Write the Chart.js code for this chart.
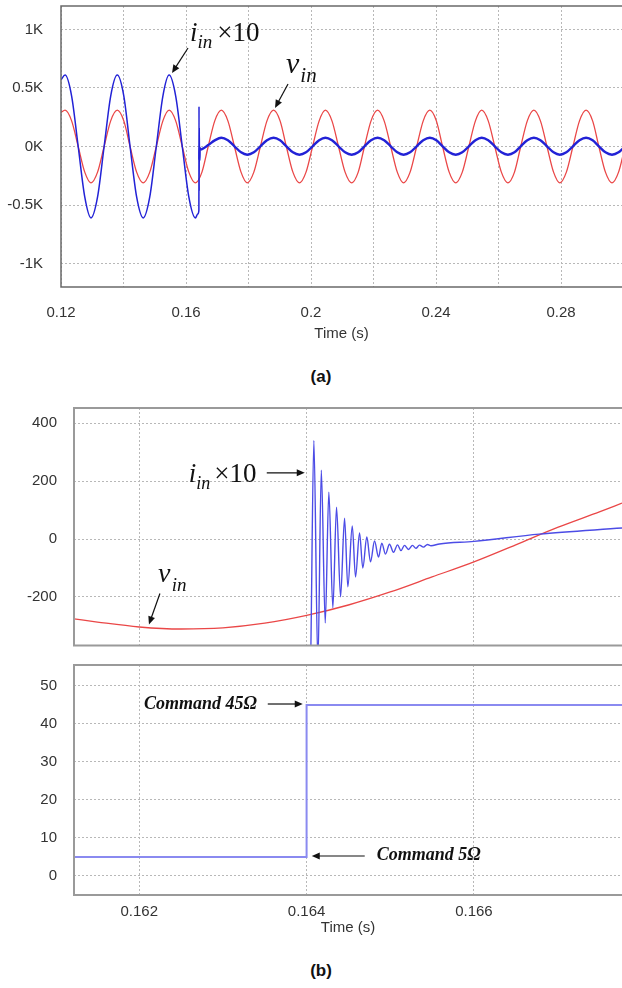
<!DOCTYPE html>
<html>
<head>
<meta charset="utf-8">
<script src="https://cdn.jsdelivr.net/npm/chart.js@4.4.1/dist/chart.umd.min.js"></script>
<style>
  html, body { margin: 0; padding: 0; background: #fff; }
  #page { position: relative; width: 622px; height: 988px; overflow: hidden; font-family: "Liberation Sans", Arial, sans-serif; }
  canvas { position: absolute; left: 0; }
  .cap { position: absolute; left: 10px; width: 622px; text-align: center; font-weight: bold; font-size: 17px; color: #111; }
</style>
</head>
<body>
<div id="page">
  <canvas id="chartA" width="622" height="350" style="top:0px"></canvas>
  <div class="cap" style="top:367px">(a)</div>
  <canvas id="chartB" width="622" height="250" style="top:400px"></canvas>
  <canvas id="chartC" width="622" height="290" style="top:655px"></canvas>
  <div class="cap" style="top:961px">(b)</div>
</div>
<script>
// ---- (a) 0.12 - 0.30 s, input voltage and current x10 ----
const vinTimeA = [0.1200,
  0.1213, 0.1234, 0.1255, 0.1276, 0.1296, 0.1317, 0.1338, 0.1359,
  0.1380, 0.1401, 0.1421, 0.1442, 0.1463, 0.1484, 0.1505, 0.1526,
  0.1546, 0.1567, 0.1588, 0.1609, 0.1630, 0.1651, 0.1671, 0.1692,
  0.1713, 0.1734, 0.1755, 0.1776, 0.1796, 0.1817, 0.1838, 0.1859,
  0.1880, 0.1901, 0.1921, 0.1942, 0.1963, 0.1984, 0.2005, 0.2026,
  0.2046, 0.2067, 0.2088, 0.2109, 0.2130, 0.2151, 0.2171, 0.2192,
  0.2213, 0.2234, 0.2255, 0.2276, 0.2296, 0.2317, 0.2338, 0.2359,
  0.2380, 0.2401, 0.2421, 0.2442, 0.2463, 0.2484, 0.2505, 0.2526,
  0.2546, 0.2567, 0.2588, 0.2609, 0.2630, 0.2651, 0.2671, 0.2692,
  0.2713, 0.2734, 0.2755, 0.2776, 0.2796, 0.2817, 0.2838, 0.2859,
  0.2880, 0.2901, 0.2921, 0.2942, 0.2963, 0.2984, 0.3005];
const vinA = [290,
  310, 219, 0, -219, -310, -219, 0, 219,
  310, 219, 0, -219, -310, -219, 0, 219,
  310, 219, 0, -219, -310, -219, 0, 219,
  310, 219, 0, -219, -310, -219, 0, 219,
  310, 219, 0, -219, -310, -219, 0, 219,
  310, 219, 0, -219, -310, -219, 0, 219,
  310, 219, 0, -219, -310, -219, 0, 219,
  310, 219, 0, -219, -310, -219, 0, 219,
  310, 219, 0, -219, -310, -219, 0, 219,
  310, 219, 0, -219, -310, -219, 0, 219,
  310, 219, 0, -219, -310, -219, 0];

const iinTimeA = [0.1200,
  0.1213, 0.1234, 0.1255, 0.1276, 0.1296, 0.1317, 0.1338, 0.1359,
  0.1380, 0.1401, 0.1421, 0.1442, 0.1463, 0.1484, 0.1505, 0.1526,
  0.1546, 0.1567, 0.1588, 0.1609, 0.1630,
  0.1638, 0.16412, 0.16416, 0.16421, 0.16425, 0.16430, 0.16436, 0.1645,
  0.1651, 0.1671, 0.1692,
  0.1713, 0.1734, 0.1755, 0.1776, 0.1796, 0.1817, 0.1838, 0.1859,
  0.1880, 0.1901, 0.1921, 0.1942, 0.1963, 0.1984, 0.2005, 0.2026,
  0.2046, 0.2067, 0.2088, 0.2109, 0.2130, 0.2151, 0.2171, 0.2192,
  0.2213, 0.2234, 0.2255, 0.2276, 0.2296, 0.2317, 0.2338, 0.2359,
  0.2380, 0.2401, 0.2421, 0.2442, 0.2463, 0.2484, 0.2505, 0.2526,
  0.2546, 0.2567, 0.2588, 0.2609, 0.2630, 0.2651, 0.2671, 0.2692,
  0.2713, 0.2734, 0.2755, 0.2776, 0.2796, 0.2817, 0.2838, 0.2859,
  0.2880, 0.2901, 0.2921, 0.2942, 0.2963, 0.2984, 0.3005];
const iinA = [570,
  610, 431, 0, -431, -610, -431, 0, 431,
  610, 431, 0, -431, -610, -431, 0, 431,
  610, 431, 0, -431, -610,
  -575, -545, 342, -380, 160, -120, -10, -28,
  -22, 12, 52,
  75, 53, 2, -50, -70, -50, 2, 53,
  75, 53, 2, -50, -70, -50, 2, 53,
  75, 53, 2, -50, -70, -50, 2, 53,
  75, 53, 2, -50, -70, -50, 2, 53,
  75, 53, 2, -50, -70, -50, 2, 53,
  75, 53, 2, -50, -70, -50, 2, 53,
  75, 53, 2, -50, -70, -50, 2, 53,
  75, 53, 2, -50, -70, -50, 2];

const xTicksA = [0.12, 0.14, 0.16, 0.18, 0.2, 0.22, 0.24, 0.26, 0.28];
const yTicksA = [-1000, -500, 0, 500, 1000];

// ---- (b) zoom around the load step at 0.164 s ----
const iinTimeB = [0.16122, 0.1625, 0.1635, 0.16404,
  0.164087, 0.164135, 0.164176, 0.164223, 0.164266, 0.164314, 0.164358, 0.164406,
  0.164454, 0.164493, 0.164546, 0.164585, 0.164633, 0.164672, 0.164720, 0.164764,
  0.164812, 0.164860, 0.164899, 0.164943, 0.164991, 0.165039, 0.165087, 0.165128,
  0.165170, 0.165218, 0.165266, 0.165307, 0.165349, 0.165397, 0.165445, 0.165487,
  0.165588, 0.1660, 0.16678, 0.16777];
const iinB = [-552, -622, -580, -512,
  341, -430, 238, -290, 162, -238, 110, -200,
  72, -165, 45, -131, 21, -100, 7, -79,
  -7, -62, -14, -52, -18, -46, -20, -40,
  -22, -36, -22, -32, -21, -28, -19, -23,
  -17, -8, 17, 38];

const vinTimeB = [0.16122, 0.1615, 0.1620, 0.1625, 0.1630, 0.1635, 0.1640, 0.1645,
  0.1650, 0.1655, 0.1660, 0.1665, 0.1670, 0.1675, 0.16777];
const vinB = [-276, -287, -304, -311, -307, -291, -264, -228,
  -183, -131, -79, -20, 40, 94, 124];

const cmdTimeB = [0.16122, 0.164, 0.16777];
const cmdB = [5, 45, 45];

const xTicksB = [0.162, 0.164, 0.166];
const yTicksB = [-200, 0, 200, 400];
const yTicksC = [0, 10, 20, 30, 40, 50];

// ---- styling helpers ----
const sans = '"Liberation Sans", Arial, sans-serif';
const serif = '"Liberation Serif", "Times New Roman", serif';
const tickFont = {family: sans, size: 15};
// small line height on the y labels keeps Chart.js from padding the plot area
const yTickFont = {family: sans, size: 15, lineHeight: 0.6};
const labelColor = '#333';

function xy(ts, vs) {
  return ts.map((t, i) => ({x: t, y: vs[i]}));
}
function fixedTicks(list) {
  return axis => { axis.ticks = list.map(v => ({value: v})); };
}

const framePlugin = {
  id: 'frame',
  afterDatasetsDraw(chart, args, opts) {
    const {ctx, chartArea: {left, top, right, bottom}} = chart;
    ctx.save();
    ctx.strokeStyle = opts.color;
    ctx.lineWidth = opts.width;
    ctx.beginPath();
    ctx.moveTo(right + 2, top);
    ctx.lineTo(left, top);
    ctx.lineTo(left, bottom);
    ctx.lineTo(right + 2, bottom);
    ctx.stroke();
    ctx.restore();
  }
};

// text + arrow call-outs, placed in data coordinates
const notesPlugin = {
  id: 'notes',
  afterDatasetsDraw(chart, args, opts) {
    const {ctx, scales: {x, y}} = chart;
    ctx.save();
    ctx.fillStyle = '#111';
    ctx.strokeStyle = '#111';
    (opts.items || []).forEach(item => {
      if (item.arrow) {
        const x0 = x.getPixelForValue(item.arrow[0]), y0 = y.getPixelForValue(item.arrow[1]);
        const x1 = x.getPixelForValue(item.arrow[2]), y1 = y.getPixelForValue(item.arrow[3]);
        const a = Math.atan2(y1 - y0, x1 - x0);
        ctx.lineWidth = 1.2;
        ctx.beginPath();
        ctx.moveTo(x0, y0);
        ctx.lineTo(x1 - 6 * Math.cos(a), y1 - 6 * Math.sin(a));
        ctx.stroke();
        ctx.beginPath();
        ctx.moveTo(x1, y1);
        ctx.lineTo(x1 - 8 * Math.cos(a) + 3.5 * Math.sin(a), y1 - 8 * Math.sin(a) - 3.5 * Math.cos(a));
        ctx.lineTo(x1 - 8 * Math.cos(a) - 3.5 * Math.sin(a), y1 - 8 * Math.sin(a) + 3.5 * Math.cos(a));
        ctx.closePath();
        ctx.fill();
      }
      if (item.parts) {
        let px = x.getPixelForValue(item.at[0]);
        const py = y.getPixelForValue(item.at[1]);
        ctx.textBaseline = 'alphabetic';
        ctx.textAlign = 'left';
        item.parts.forEach(p => {
          ctx.font = p.font;
          px += p.dx || 0;
          ctx.fillText(p.text, px, py + (p.dy || 0));
          px += ctx.measureText(p.text).width;
        });
      }
    });
    ctx.restore();
  }
};

const gridStyle = {color: '#b8b8b8', lineWidth: 1, drawTicks: false};
// y axes: invisible tick marks give the gap between labels and the frame
const yGridStyle = {color: '#b8b8b8', lineWidth: 1, drawTicks: true, tickLength: 17, tickColor: 'rgba(0,0,0,0)'};
const borderStyle = {display: false, dash: [2, 2]};

const common = {
  responsive: false,
  animation: false,
  events: [],
  elements: {point: {radius: 0}, line: {cubicInterpolationMode: 'monotone'}}
};

// ---- chart (a) ----
new Chart(document.getElementById('chartA'), {
  type: 'line',
  data: {
    datasets: [
      {
        data: xy(iinTimeA, iinA),
        borderColor: '#2222d6',
        borderWidth: 1.5,
        segment: {borderWidth: c => c.p0.parsed.x >= 0.1643 ? 2.4 : 1.5}
      },
      {data: xy(vinTimeA, vinA), borderColor: '#ea4747', borderWidth: 1.3}
    ]
  },
  options: {
    ...common,
    layout: {padding: {top: 6, right: 0, bottom: 0, left: 0}},
    scales: {
      x: {
        type: 'linear', min: 0.12, max: 0.2995,
        afterBuildTicks: fixedTicks(xTicksA),
        afterFit: s => { s.height = 63; },
        grid: gridStyle, border: borderStyle,
        ticks: {font: tickFont, color: labelColor, padding: 17, autoSkip: false, maxRotation: 0,
          callback: (v, i) => i % 2 === 0 ? String(v) : ''},
        title: {display: true, text: 'Time (s)', color: labelColor, font: {family: sans, size: 15}, padding: {top: 0, bottom: 7}}
      },
      y: {
        type: 'linear', min: -1200, max: 1200,
        afterBuildTicks: fixedTicks(yTicksA),
        afterFit: s => { s.width = 61; },
        grid: {...yGridStyle, tickLength: 18}, border: borderStyle,
        ticks: {font: yTickFont, color: labelColor, padding: 0, callback: v => (v / 1000) + 'K'}
      }
    },
    plugins: {
      legend: {display: false},
      tooltip: {enabled: false},
      frame: {color: '#6a6a6a', width: 1.5},
      notes: {items: [
        {at: [0.16128, 901], parts: [
          {text: 'i', font: 'italic 27px ' + serif},
          {text: 'in', font: 'italic 19px ' + serif, dy: 7},
          {text: '×10', font: '27px ' + serif, dx: 5}
        ]},
        {arrow: [0.16064, 841, 0.15552, 628]},
        {at: [0.1920, 628], parts: [
          {text: 'v', font: 'italic 30px ' + serif},
          {text: 'in', font: 'italic 21px ' + serif, dy: 9, dx: 1}
        ]},
        {arrow: [0.19264, 534, 0.18848, 329]}
      ]}
    }
  },
  plugins: [framePlugin, notesPlugin]
});

// ---- chart (b), upper panel ----
new Chart(document.getElementById('chartB'), {
  type: 'line',
  data: {
    datasets: [
      {data: xy(iinTimeB, iinB), borderColor: '#4c4ce6', borderWidth: 1.4},
      {data: xy(vinTimeB, vinB), borderColor: '#ea4747', borderWidth: 1.3}
    ]
  },
  options: {
    ...common,
    layout: {padding: {top: 8, right: 0, bottom: 0, left: 0}},
    scales: {
      x: {
        type: 'linear', min: 0.16122, max: 0.16777,
        afterBuildTicks: fixedTicks(xTicksB),
        afterFit: s => { s.height = 4; },
        grid: gridStyle, border: borderStyle,
        ticks: {display: false}
      },
      y: {
        type: 'linear', min: -368, max: 453,
        afterBuildTicks: fixedTicks(yTicksB),
        afterFit: s => { s.width = 74; },
        grid: yGridStyle, border: borderStyle,
        ticks: {font: yTickFont, color: labelColor, padding: 0}
      }
    },
    plugins: {
      legend: {display: false},
      tooltip: {enabled: false},
      frame: {color: '#9a9a9a', width: 2},
      notes: {items: [
        {at: [0.162593, 198], parts: [
          {text: 'i', font: 'italic 27px ' + serif},
          {text: 'in', font: 'italic 18px ' + serif, dy: 7},
          {text: '×10', font: '27px ' + serif, dx: 4}
        ]},
        {arrow: [0.163524, 229, 0.163978, 229]},
        {at: [0.162223, -150], parts: [
          {text: 'v', font: 'italic 28px ' + serif},
          {text: 'in', font: 'italic 19px ' + serif, dy: 9, dx: 1.5}
        ]},
        {arrow: [0.162247, -188, 0.162116, -295]}
      ]}
    }
  },
  plugins: [framePlugin, notesPlugin]
});

// ---- chart (b), lower panel: resistance command ----
new Chart(document.getElementById('chartC'), {
  type: 'line',
  data: {
    datasets: [
      {data: xy(cmdTimeB, cmdB), borderColor: '#8a8af0', borderWidth: 2, stepped: true}
    ]
  },
  options: {
    ...common,
    layout: {padding: {top: 10, right: 0, bottom: 0, left: 0}},
    scales: {
      x: {
        type: 'linear', min: 0.16122, max: 0.16777,
        afterBuildTicks: fixedTicks(xTicksB),
        afterFit: s => { s.height = 50; },
        grid: gridStyle, border: borderStyle,
        ticks: {font: tickFont, color: labelColor, padding: 8, autoSkip: false, maxRotation: 0,
          callback: v => String(v)},
        title: {display: true, text: 'Time (s)', color: labelColor, font: {family: sans, size: 15}, padding: {top: 0, bottom: 8}}
      },
      y: {
        type: 'linear', min: -5, max: 55.5,
        afterBuildTicks: fixedTicks(yTicksC),
        afterFit: s => { s.width = 74; },
        grid: yGridStyle, border: borderStyle,
        ticks: {font: yTickFont, color: labelColor, padding: 0}
      }
    },
    plugins: {
      legend: {display: false},
      tooltip: {enabled: false},
      frame: {color: '#9a9a9a', width: 2},
      notes: {items: [
        {at: [0.162056, 43.9], parts: [{text: 'Command 45Ω', font: 'bold italic 18px ' + serif}]},
        {arrow: [0.163536, 45.24, 0.163954, 45.24]},
        {at: [0.164838, 4.21], parts: [{text: 'Command 5Ω', font: 'bold italic 18px ' + serif}]},
        {arrow: [0.164695, 5.26, 0.164062, 5.26]}
      ]}
    }
  },
  plugins: [framePlugin, notesPlugin]
});
</script>
</body>
</html>
